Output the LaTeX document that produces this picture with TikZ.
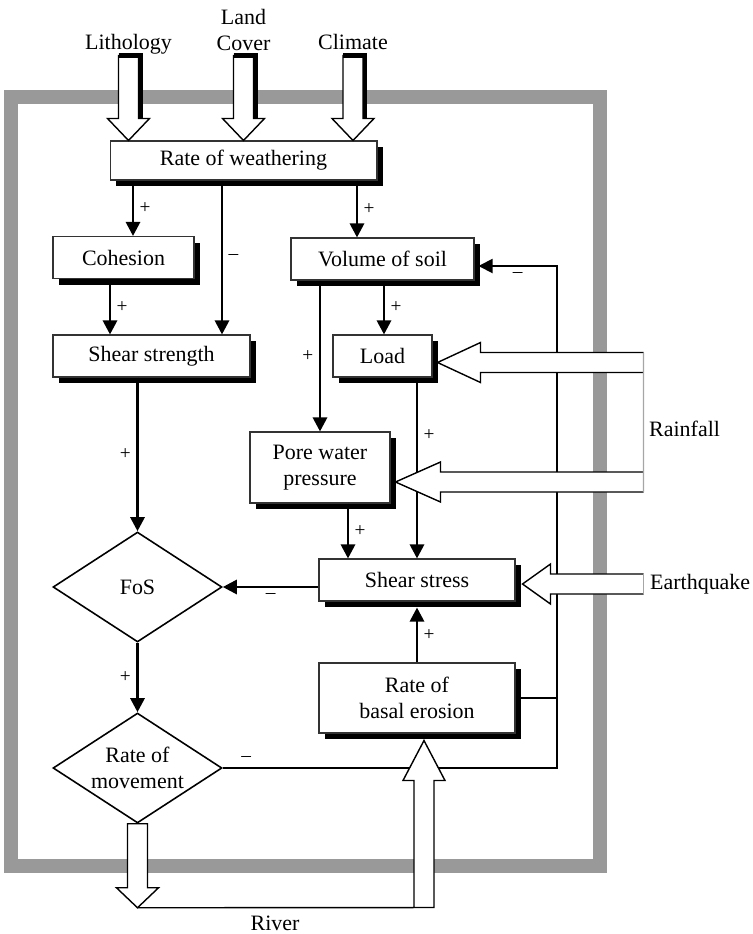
\documentclass[tikz,border=0pt]{standalone}
\usepackage{fontspec}
\setmainfont{Liberation Serif}
\usetikzlibrary{arrows.meta,positioning,shapes.geometric,shadows}
\tikzset{>={Triangle[length=8pt,width=8pt]},
         box/.style={draw=black!80, line width=0.6pt, fill=white,
           minimum height=0.84cm, inner sep=0pt, align=center,
           drop shadow={shadow xshift=0.12cm, shadow yshift=-0.12cm,
             fill=black, opacity=1}},
         decision/.style={diamond, draw, line width=0.9pt, fill=white,
           aspect=1.54, minimum width=3.38cm, minimum height=2.2cm,
           inner sep=0pt, align=center},
         link/.style={->, line width=1.6pt},
         backlink/.style={->, line width=1.1pt},
         hollow/.style={draw, line width=0.8pt, fill=white},
         sgn/.style={font=\fontsize{11}{13}\selectfont, inner sep=3pt},
         casing/.style={draw=black!40, line width=0.28cm}}
% fat input arrow pointing down, tip at #1
\newcommand\inarrow[1]{%
  \draw[hollow] #1 ++(-10,-85) -- ++(0,63) -- ++(-11,0) -- #1
    -- ++(21,-22) -- ++(-11,0) -- ++(0,-63) -- cycle;
  \draw[line width=2.4pt] #1 ++(-10,-85) -- ++(22,0) -- ++(0,63);}
% fat arrow pointing left: tip, head length, shaft length, name
\newcommand\hollowleft[4]{%
  \draw[hollow] #1 ++(#2+#3,-10) coordinate (#4-top) -- ++(-#3,0)
    -- ++(0,-10) -- #1 -- ++(#2,20) -- ++(0,-10) -- ++(#3,0)
    coordinate (#4-bot);}

\begin{document}
\begin{tikzpicture}[x=0.02cm, y=-0.02cm, font=\fontsize{12.5}{15}\selectfont]
  \useasboundingbox (0,0) rectangle (752,934);
  \draw[casing] (11,97) rectangle (600,866);

  \node[anchor=base] (lith) at (128.5,49) {Lithology};
  \node[align=center] (cover) at (243.5,30) {Land\\Cover};
  \node[anchor=base] (climate) at (353,49) {Climate};
  \node[anchor=west] (rain) at (643,429) {Rainfall};
  \node[anchor=west] (quake) at (644,584) {Earthquake};
  \node (river) at (275,923) {River};

  \node[box, minimum width=5.34cm, minimum height=0.78cm] (weather) at (243.5,160.5) {Rate of weathering};
  \node[box, minimum width=2.82cm] (cohesion) at (123.5,257.5) {Cohesion};
  \node[box, minimum width=3.94cm] (strength) at (151.5,356) {Shear strength};
  \node[box, minimum width=3.66cm] (volume) at (382.5,259) {Volume of soil};
  \node[box, minimum width=1.98cm] (load) at (382.5,356) {Load};
  \node[box, minimum width=2.8cm, minimum height=1.42cm] (pore) at (320,467.5) {Pore water\\pressure};
  \node[box, minimum width=3.92cm] (stress) at (417,580) {Shear stress};
  \node[box, minimum width=3.92cm, minimum height=1.4cm] (basal) at (417,698) {Rate of\\basal erosion};
  \node[decision] (fos) at (137.5,587) {FoS};
  \node[decision] (movement) at (137.5,768) {Rate of\\movement};

  % columns of the vertical links
  \coordinate (xa) at (133,0);
  \coordinate (xb) at (222,0);
  \coordinate (xc) at (357,0);
  \coordinate (xd) at (110,0);
  \coordinate (xe) at (320,0);
  \coordinate (xf) at (384,0);
  \coordinate (xh) at (348,0);
  \coordinate (fb) at (557,266);

  \draw[link] (weather.south -| xa) -- node[sgn,right] {+} (cohesion.north -| xa);
  \draw[link] (weather.south -| xb) -- node[sgn,right] {--} (strength.north -| xb);
  \draw[link] (weather.south -| xc) -- node[sgn,right] {+} (volume.north -| xc);
  \draw[link] (cohesion.south -| xd) -- node[sgn,right] {+} (strength.north -| xd);
  \draw[link] (volume.south -| xe) -- node[sgn,left] {+} (pore.north -| xe);
  \draw[link] (volume.south -| xf) -- node[sgn,right] {+} (load.north -| xf);
  \draw[link] (load.south -| stress.north) -- node[sgn,right,pos=0.32] {+} (stress.north);
  \draw[link] (pore.south -| xh) -- node[sgn,right] {+} (stress.north -| xh);
  \draw[link] (strength.south -| fos.north) -- node[sgn,left] {+} (fos.north);
  \draw[link] (stress.west |- fos.east) -- node[sgn,below] {--} (fos.east);
  \draw[link] (basal.north) -- node[sgn,right] {+} ([yshift=-0.12cm]stress.south);
  \draw[link] (fos.south) -- node[sgn,left] {+} (movement.north);

  % feedback to the volume of soil
  \draw[backlink] (movement.east) -| node[sgn,above,pos=0.035] {--} (fb)
    -- node[sgn,below] {--} ([xshift=0.08cm]volume.east |- fb);
  \draw[line width=1.1pt] (basal.east) -- (basal.east -| fb);

  % external drivers
  \inarrow{(weather.north -| lith)}
  \inarrow{(weather.north -| cover)}
  \inarrow{(weather.north -| climate)}
  \hollowleft{([xshift=0.1cm,yshift=-0.13cm]load.east)}{43}{163}{ra}
  \hollowleft{([xshift=0.1cm,yshift=-0.29cm]pore.east)}{45}{203}{rb}
  \draw[black!35, line width=0.8pt] (ra-top) -- (rb-bot);
  \hollowleft{([xshift=0.14cm]stress.east |- quake.west)}{28}{93}{eq}
  \draw[black!35, line width=0.8pt] (eq-top) -- (eq-bot);

  % river loop
  \coordinate (rbed) at ([yshift=-1.68cm]movement.south);
  \coordinate (rtip) at ([xshift=0.14cm,yshift=-0.14cm]basal.south);
  \draw[hollow] (rbed) ++(-10,-84) -- ++(0,64) -- ++(-11,0) -- (rbed)
    -- ++(21,-20) -- ++(-11,0) -- ++(0,-64) -- cycle;
  \draw[hollow] (rtip) ++(-10,167) -- ++(0,-127) -- ++(-11,0) -- (rtip)
    -- ++(21,40) -- ++(-11,0) -- ++(0,127) -- (rbed);
\end{tikzpicture}
\end{document}
